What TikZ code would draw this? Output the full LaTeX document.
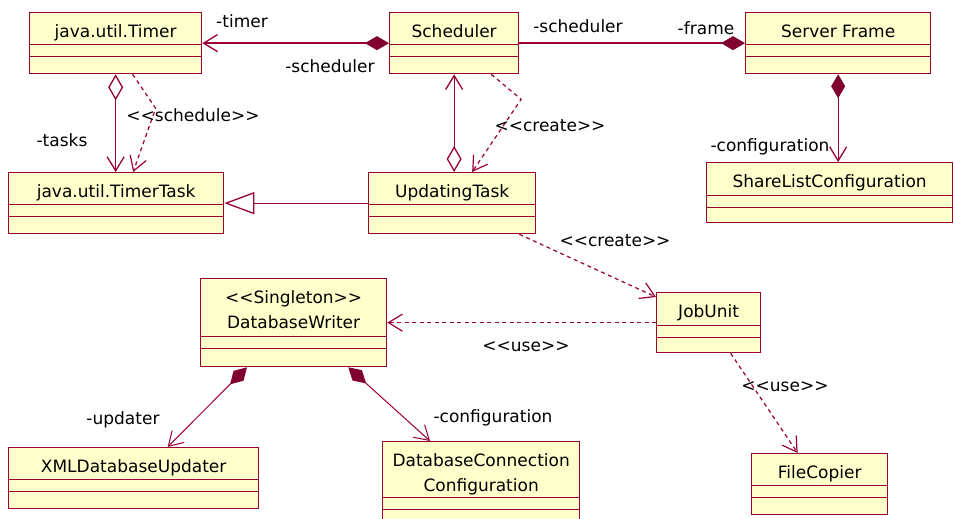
\documentclass[tikz,border=0pt]{standalone}
\usepackage{fontspec}
\setmainfont{DejaVu Sans}
\usetikzlibrary{arrows.meta}
\definecolor{umlred}{RGB}{153,0,51}
\definecolor{umldark}{RGB}{128,0,48}
\definecolor{umlfill}{RGB}{255,255,204}
\tikzset{
  divider/.store in=\umldiv,
  umlopen/.tip={Straight Barb[length=14pt,width=17pt]},
  umlcomp/.tip={Diamond[length=24pt,width=14pt,color=umldark,fill=umldark]},
  umlagg/.tip={Diamond[open,length=26pt,width=15pt]},
  umlgen/.tip={Triangle[open,length=30pt,width=22pt]}
}
\begin{document}
\begin{tikzpicture}[x=1pt, y=-1pt, font=\fontsize{17pt}{25pt}\selectfont]
  \tikzstyle{umlclass}=[draw=umlred, fill=umlfill, line width=1.3pt, anchor=north west,
    inner sep=0pt, text height=25pt, text depth=36pt, align=center, divider=32pt,
    path picture={\draw[umlred, line width=1.3pt]
      ([yshift=-\umldiv]path picture bounding box.north west) -- ([yshift=-\umldiv]path picture bounding box.north east)
      ([yshift=-\umldiv-12pt]path picture bounding box.north west) -- ([yshift=-\umldiv-12pt]path picture bounding box.north east);}]
  \tikzstyle{assoc}=[umlred, line width=1.3pt]
  \tikzstyle{dep}=[umlred, line width=1.2pt, dash pattern=on 4pt off 3.5pt]
  \useasboundingbox (0,0) rectangle (954,519);
  \node[umlclass, minimum width=172pt] (timer) at (29,12) {java.util.Timer};
  \node[umlclass, minimum width=129pt] (scheduler) at (389,12) {Scheduler};
  \node[umlclass, minimum width=185pt] (serverframe) at (745,12) {Server Frame};
  \node[umlclass, minimum width=246pt, text depth=35pt, divider=33pt] (sharelist) at (706,162) {ShareListConfiguration};
  \node[umlclass, minimum width=215pt] (timertask) at (8,172) {java.util.TimerTask};
  \node[umlclass, minimum width=167pt] (updating) at (368,172) {UpdatingTask};
  \node[umlclass, minimum width=186pt, text height=50pt, text depth=38pt, divider=58pt] (dbwriter) at (200,278) {<{}<Singleton>{}>\\DatabaseWriter};
  \node[umlclass, minimum width=104pt, text depth=35pt, divider=33pt] (jobunit) at (656,292) {JobUnit};
  \node[umlclass, minimum width=250pt] (xmlupdater) at (8,447) {XMLDatabaseUpdater};
  \node[umlclass, minimum width=197pt, text height=50pt, text depth=36pt, divider=56pt] (dbconn) at (382,441) {DatabaseConnection\\Configuration};
  \node[umlclass, minimum width=136pt] (filecopier) at (751,453) {FileCopier};

  \draw[assoc, umlcomp-umlopen] (scheduler.west) -- (timer.east);
  \draw[assoc, -umlcomp] (scheduler.east) -- (serverframe.west);
  \draw[assoc, umlcomp-umlopen] (serverframe.south) -- (serverframe.south |- sharelist.north);
  \draw[assoc, umlagg-umlopen] (timer.south) -- (timer.south |- timertask.north);
  \draw[dep, -umlopen] ([xshift=17pt]timer.south) -- ++(23,34) -- ([xshift=17pt]timertask.north);
  \draw[assoc, -umlgen] (updating.west) -- (timertask.east);
  \draw[assoc, umlagg-umlopen] (scheduler.south |- updating.north) -- (scheduler.south);
  \draw[dep, -umlopen] ([xshift=37pt]scheduler.south) -- ++(30,25) -- ([xshift=20pt]updating.north);
  \draw[dep, -umlopen] ([xshift=-17pt]updating.south east) -- ([yshift=-5pt]jobunit.north west);
  \draw[dep, -umlopen] (jobunit.west) -- (dbwriter.east);
  \draw[dep, -umlopen] ([xshift=22pt]jobunit.south) -- ([xshift=-22pt]filecopier.north);
  \draw[assoc, line width=1pt, umlcomp-umlopen] ([xshift=47pt]dbwriter.south west) -- ([xshift=34pt]xmlupdater.north);
  \draw[assoc, line width=1pt, umlcomp-umlopen] ([xshift=-39pt]dbwriter.south east) -- ([xshift=48pt]dbconn.north west);

  \node (timerrole) at (242,21) {-timer};
  \node (schedrole) at (330,66) {-scheduler};
  \node (schedrole2) at (578,26) {-scheduler};
  \node (framerole) at (706,28) {-frame};
  \node (configrole) at (770,147) {-configuration};
  \node (tasksrole) at (62,140) {-tasks};
  \node (schedulelbl) at (193,115) {<{}<schedule>{}>};
  \node (createlbl) at (550,126) {<{}<create>{}>};
  \node (createlbl2) at (615,241) {<{}<create>{}>};
  \node (uselbl) at (526,347) {<{}<use>{}>};
  \node (uselbl2) at (785,387) {<{}<use>{}>};
  \node (updaterrole) at (123,420) {-updater};
  \node (dbconfigrole) at (493,418) {-configuration};
\end{tikzpicture}
\end{document}
